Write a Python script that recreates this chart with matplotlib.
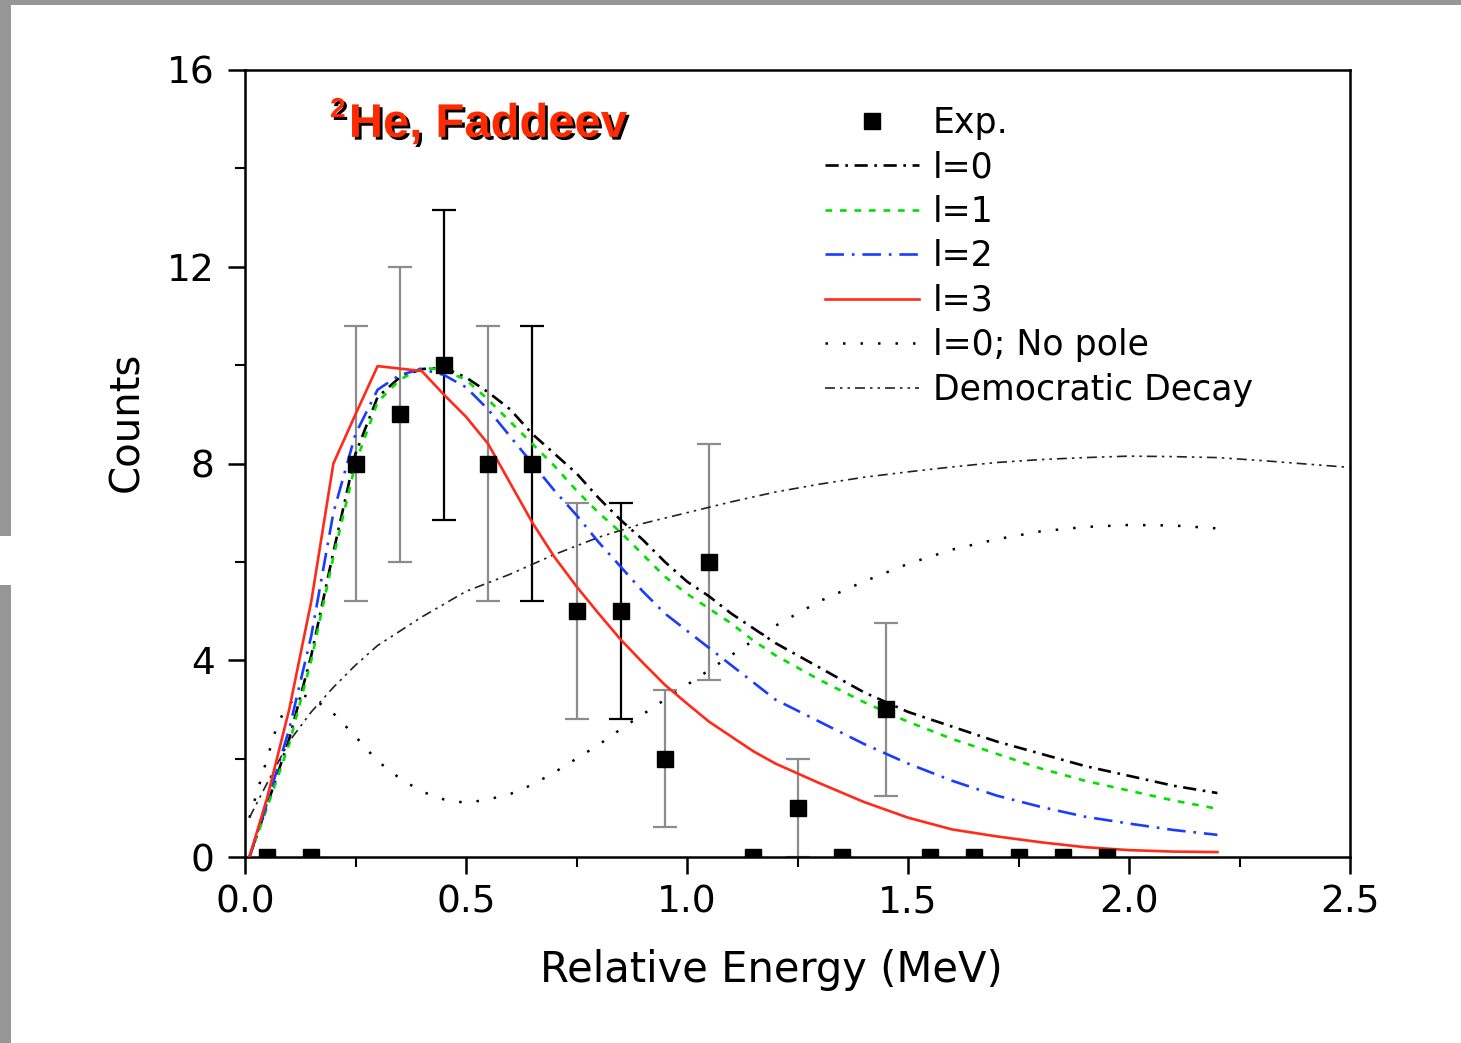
import matplotlib
matplotlib.use("Agg")
import matplotlib.pyplot as plt
import matplotlib.patheffects as pe
from matplotlib.patches import Rectangle
from matplotlib.ticker import MultipleLocator, FormatStrFormatter

plt.rcParams['font.family'] = ['DejaVu Sans']

# ── experimental points ──────────────────────────────────────────────────────
exp_e = [0.05, 0.15, 0.25, 0.35, 0.45, 0.55, 0.65, 0.75, 0.85, 0.95,
         1.05, 1.15, 1.25, 1.35, 1.45, 1.55, 1.65, 1.75, 1.85, 1.95]
exp_counts = [0, 0, 8, 9, 10, 8, 8, 5, 5, 2,
              6, 0, 1, 0, 3, 0, 0, 0, 0, 0]
exp_err = [0, 0, 2.8, 3.0, 3.15, 2.8, 2.8, 2.2, 2.2, 1.4,
           2.4, 0, 1.0, 0, 1.75, 0, 0, 0, 0, 0]

# ── Faddeev curves for l = 0..3 ─────────────────────────────────────────────
e_grid = [0.01, 0.05, 0.10, 0.15, 0.20, 0.25, 0.30, 0.35, 0.40, 0.45,
          0.50, 0.55, 0.60, 0.65, 0.70, 0.75, 0.80, 0.85, 0.90, 0.95,
          1.00, 1.05, 1.10, 1.15, 1.20, 1.30, 1.40, 1.50, 1.60, 1.70,
          1.80, 1.90, 2.00, 2.10, 2.20]
l0 = [0, 1.05, 2.4, 4.1, 6.2, 8.2, 9.35, 9.75, 9.92, 9.95,
      9.75, 9.45, 9.1, 8.6, 8.2, 7.8, 7.3, 6.85, 6.45, 6.0,
      5.6, 5.3, 4.95, 4.65, 4.35, 3.85, 3.35, 2.95, 2.65, 2.35,
      2.1, 1.85, 1.65, 1.45, 1.3]
l1 = [0, 1.0, 2.3, 4.0, 6.1, 8.0, 9.25, 9.7, 9.95, 9.9,
      9.7, 9.3, 8.85, 8.4, 7.95, 7.45, 7.0, 6.6, 6.15, 5.7,
      5.35, 5.05, 4.75, 4.4, 4.1, 3.6, 3.15, 2.75, 2.4, 2.1,
      1.8, 1.55, 1.35, 1.15, 0.98]
l2 = [0, 1.1, 2.6, 4.5, 7.0, 8.6, 9.5, 9.8, 9.92, 9.8,
      9.55, 9.1, 8.55, 8.0, 7.45, 6.95, 6.4, 5.9, 5.4, 4.95,
      4.6, 4.25, 3.9, 3.55, 3.2, 2.75, 2.3, 1.9, 1.55, 1.25,
      1.02, 0.82, 0.68, 0.55, 0.45]
l3 = [0, 1.2, 3.0, 5.2, 8.0, 9.0, 9.98, 9.93, 9.88, 9.4,
      8.95, 8.4, 7.6, 6.8, 6.1, 5.5, 4.95, 4.42, 3.95, 3.5,
      3.12, 2.75, 2.45, 2.15, 1.9, 1.5, 1.12, 0.8, 0.56, 0.42,
      0.3, 0.2, 0.14, 0.11, 0.1]

# l=0 without the pole
nopole_e = [0.01, 0.03, 0.05, 0.07, 0.09, 0.12, 0.15, 0.20, 0.25, 0.30,
            0.35, 0.40, 0.45, 0.50, 0.55, 0.60, 0.65, 0.70, 0.75, 0.80,
            0.85, 0.90, 0.95, 1.00, 1.10, 1.20, 1.30, 1.40, 1.50, 1.60,
            1.70, 1.80, 1.90, 2.00, 2.10, 2.20]
nopole = [0.8, 1.4, 2.0, 2.6, 3.0, 3.3, 3.25, 2.92, 2.45, 1.95,
          1.6, 1.33, 1.17, 1.1, 1.17, 1.28, 1.47, 1.72, 2.0, 2.28,
          2.6, 2.9, 3.2, 3.5, 4.1, 4.7, 5.2, 5.6, 5.96, 6.25,
          6.46, 6.62, 6.71, 6.75, 6.74, 6.68]

# democratic decay
demo_e = [0.01, 0.05, 0.10, 0.15, 0.20, 0.25, 0.30, 0.40, 0.50, 0.60,
          0.70, 0.80, 0.90, 1.00, 1.10, 1.20, 1.30, 1.40, 1.50, 1.60,
          1.70, 1.80, 1.90, 2.00, 2.10, 2.20, 2.30, 2.40, 2.50]
demo = [0.8, 1.5, 2.35, 2.95, 3.45, 3.9, 4.3, 4.88, 5.4, 5.75,
        6.15, 6.5, 6.78, 7.0, 7.22, 7.42, 7.58, 7.72, 7.83, 7.93,
        8.02, 8.08, 8.12, 8.15, 8.14, 8.12, 8.06, 7.99, 7.92]

W, H = 1461, 1043
fig = plt.figure(figsize=(W / 100, H / 100), dpi=100)
fig.patch.set_facecolor('white')

# gray slide borders
gray = '#969696'
fig.add_artist(Rectangle((0, 1 - 5 / H), 1, 5 / H, transform=fig.transFigure,
                         color=gray, lw=0))
fig.add_artist(Rectangle((0, 1 - 536 / H), 11 / W, 536 / H,
                         transform=fig.transFigure, color=gray, lw=0))
fig.add_artist(Rectangle((0, 0), 11 / W, (H - 585) / H,
                         transform=fig.transFigure, color=gray, lw=0))

ax = fig.add_axes([245 / W, 186 / H, 1105 / W, 787 / H])

# error bars: most gray, a few black
dark = [0.45, 0.65, 0.85]
for e, c, s in zip(exp_e, exp_counts, exp_err):
    if s <= 0:
        continue
    col = 'black' if e in dark else '#8c8c8c'
    ax.errorbar([e], [c], yerr=[s], fmt='none', ecolor=col,
                elinewidth=1.6, capsize=8.5, capthick=1.6, zorder=2)

ax.plot(e_grid, l0, color='black', lw=1.9, dashes=(5, 2.5, 1, 2.5),
        label='l=0', zorder=3)
ax.plot(e_grid, l1, color='#00e000', lw=1.9, dashes=(2.5, 3),
        label='l=1', zorder=3)
ax.plot(e_grid, l2, color='#1a3cff', lw=1.9, dashes=(7, 3, 1, 3),
        label='l=2', zorder=3)
ax.plot(e_grid, l3, color='#ff2a1a', lw=1.9, label='l=3', zorder=4)
ax.plot(nopole_e, nopole, color='black', lw=1.8, dashes=(1, 6),
        label='l=0; No pole', zorder=3)
ax.plot(demo_e, demo, color='#222222', lw=1.2, dashes=(6, 3, 1.5, 3, 1.5, 3),
        label='Democratic Decay', zorder=3)
ax.plot(exp_e, exp_counts, 's', color='black', ms=12, label='Exp.', zorder=5)

ax.set_xlim(0, 2.5)
ax.set_ylim(0, 16)
ax.xaxis.set_major_locator(MultipleLocator(0.5))
ax.xaxis.set_minor_locator(MultipleLocator(0.25))
ax.yaxis.set_major_locator(MultipleLocator(4))
ax.yaxis.set_minor_locator(MultipleLocator(2))
ax.xaxis.set_major_formatter(FormatStrFormatter('%.1f'))
ax.tick_params(which='major', direction='out', length=12, width=1.8,
               labelsize=27, pad=8, colors='black')
ax.tick_params(which='minor', direction='out', length=7, width=1.5)
ax.tick_params(axis='y', which='major', pad=10)
for sp in ax.spines.values():
    sp.set_linewidth(1.8)

ax.set_xlabel('Relative Energy (MeV)', fontsize=30)
ax.set_ylabel('Counts', fontsize=29)
ax.xaxis.set_label_coords(0.476, -0.1165)
ax.yaxis.set_label_coords(-0.0885, 0.553)

# legend, Exp. first as in the original
handles, labels = ax.get_legend_handles_labels()
order = [6, 0, 1, 2, 3, 4, 5]
ax.legend([handles[i] for i in order], [labels[i] for i in order],
          loc='upper left', bbox_to_anchor=(0.525, 0.954), frameon=False,
          fontsize=25, handlelength=2.7, handletextpad=0.4,
          labelspacing=0.3, borderpad=0, borderaxespad=0)

shadow = [pe.withSimplePatchShadow(offset=(2, -2), shadow_rgbFace='black',
                                   alpha=1.0)]
ax.text(0.077, 0.94, '2', transform=ax.transAxes, fontsize=20,
        fontweight='bold', color='#ff2a00', va='baseline', ha='left',
        family='Liberation Sans', path_effects=shadow)
ax.text(0.094, 0.915, 'He, Faddeev', transform=ax.transAxes, fontsize=34,
        fontweight='bold', color='#ff2a00', va='baseline', ha='left',
        family='Liberation Sans', path_effects=shadow)

fig.savefig('out.png', dpi=100)
